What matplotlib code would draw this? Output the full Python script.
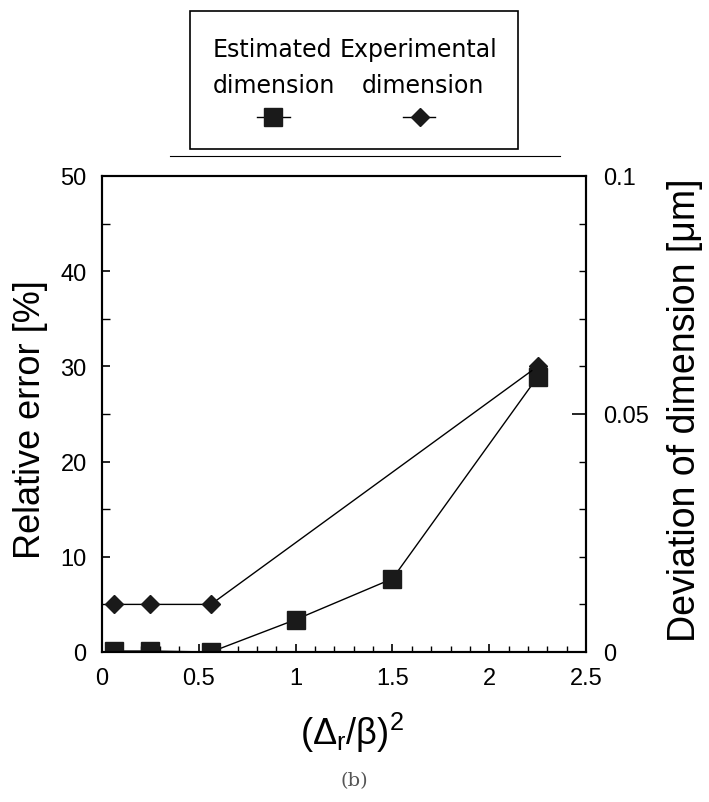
import numpy as np
import matplotlib
matplotlib.use("Agg")
from matplotlib import pyplot as plt
from matplotlib.ticker import MultipleLocator
from matplotlib.lines import Line2D
from matplotlib.patches import Rectangle

# values
x_est = [0.0625, 0.25, 0.5625, 1.0, 1.5, 2.25]
y_est = [0.1, 0.1, 0.0, 3.4, 7.7, 28.9]
x_exp = [0.0625, 0.25, 0.5625, 2.25]
y_exp = [5.0, 5.0, 5.0, 30.0]

x_ticks = [0, 0.5, 1, 1.5, 2, 2.5]
x_ticklabels = ["0", "0.5", "1", "1.5", "2", "2.5"]
right_ticks = [0, 0.05, 0.1]
right_ticklabels = ["0", "0.05", "0.1"]

plt.rcParams['font.family'] = ['Liberation Sans', 'DejaVu Sans']
plt.rcParams['mathtext.fontset'] = 'custom'
plt.rcParams['mathtext.rm'] = 'Liberation Sans'
plt.rcParams['mathtext.it'] = 'Liberation Sans'

MK = '#1a1a1a'

fig = plt.figure(figsize=(7.09, 8.03), dpi=100)
ax = fig.add_axes([0.1439, 0.1868, 0.6827, 0.5928])

ax.plot(x_est, y_est, color='black', lw=1.0, marker='s', ms=13,
        mfc=MK, mec=MK, clip_on=True, zorder=3)
ax.plot(x_exp, y_exp, color='black', lw=1.0, marker='D', ms=9.5,
        mfc=MK, mec=MK, clip_on=False, zorder=4)

ax.set_xlim(0, 2.5)
ax.set_ylim(0, 50)
ax.set_xticks(x_ticks)
ax.set_xticklabels(x_ticklabels)
ax.xaxis.set_minor_locator(MultipleLocator(0.1))
ax.yaxis.set_major_locator(MultipleLocator(10))
ax.yaxis.set_minor_locator(MultipleLocator(5))
ax.tick_params(which='major', direction='in', length=6, width=1.2,
               labelsize=17, pad=11)
ax.tick_params(which='minor', direction='in', length=4, width=1.0)
ax.tick_params(axis='y', which='minor', length=6)

ax.set_ylabel("Relative error [%]", fontsize=26)
ax.yaxis.set_label_coords(-0.112, 0.49)
ax.set_xlabel(r"$(\Delta_r/\beta)^2$", fontsize=26)
ax.xaxis.set_label_coords(0.5165, -0.122)

ax2 = ax.twinx()
ax2.set_ylim(0, 0.1)
ax2.set_yticks(right_ticks)
ax2.set_yticklabels(right_ticklabels)
ax2.yaxis.set_minor_locator(MultipleLocator(0.01))
ax2.tick_params(which='major', direction='in', length=10, width=1.2,
                labelsize=17, pad=12)
ax2.tick_params(which='minor', direction='in', length=5, width=1.0)
ax2.set_ylabel("Deviation of dimension [\u03bcm]", fontsize=27)
ax2.yaxis.set_label_coords(1.168, 0.51)

for a in (ax, ax2):
    for s in a.spines.values():
        s.set_linewidth(1.5)

# legend: its own box above the axes, text over marker
fig.patches.append(Rectangle((0.268, 0.8132), 0.4626, 0.1719,
                             transform=fig.transFigure, fill=False,
                             ec='black', lw=1.2))
fig.add_artist(Line2D([0.24, 0.79], [0.8045, 0.8045],
                      transform=fig.transFigure, color='black', lw=0.8))
leg_font = dict(fontsize=17, family='DejaVu Sans', ha='left', va='baseline')
fig.text(0.3004, 0.929, "Estimated", **leg_font)
fig.text(0.4795, 0.929, "Experimental", **leg_font)
fig.text(0.3004, 0.8842, "dimension", **leg_font)
fig.text(0.5106, 0.8842, "dimension", **leg_font)
fig.add_artist(Line2D([0.3625, 0.409], [0.853, 0.853],
                      transform=fig.transFigure, color='black', lw=1.0))
fig.add_artist(Line2D([0.5684, 0.6135], [0.853, 0.853],
                      transform=fig.transFigure, color='black', lw=1.0))
fig.add_artist(Line2D([0.385], [0.853], transform=fig.transFigure,
                      marker='s', ms=13, color=MK, ls='none'))
fig.add_artist(Line2D([0.5924], [0.853], transform=fig.transFigure,
                      marker='D', ms=9.5, color=MK, ls='none'))

fig.text(0.4993, 0.0274, "(b)", fontsize=14, ha='center', va='center',
         family='DejaVu Serif', color='#555555')

fig.savefig("out.png", dpi=100)
